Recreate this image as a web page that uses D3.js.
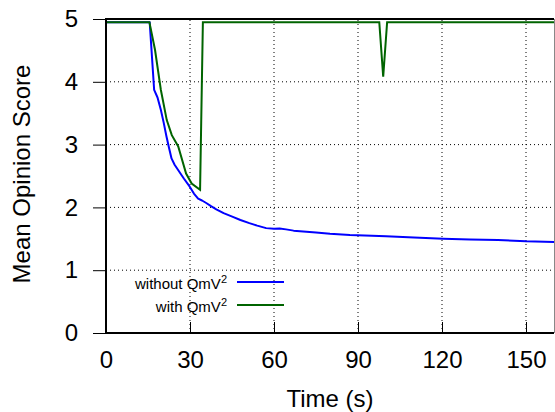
<!DOCTYPE html>
<html><head><meta charset="utf-8">
<script src="https://cdn.jsdelivr.net/npm/d3@7"></script>
<style>body{margin:0;background:#fff}svg{display:block}text{font-family:"Liberation Sans",Arial,sans-serif}</style>
</head><body>
<svg id="c" width="555" height="412"></svg>
<script>
const xTicks = [0, 30, 60, 90, 120, 150];
const yTicks = [0, 1, 2, 3, 4, 5];
const seriesNames = ["without QmV", "with QmV"];
const withoutT = [0, 15.6, 17.2, 18.4, 19.6, 20.6, 21.6, 22.5, 23.4, 24.5, 25.7, 27.8, 29.9, 31.4, 32.9, 34.3, 35.8, 37.5, 39.4, 42, 45.3, 48, 51.2, 54, 57.2, 60, 62, 64.3, 67, 69.3, 75, 80, 87.1, 95, 100, 110, 120.4, 130, 140, 150, 160];
const withoutV = [4.95, 4.95, 3.87, 3.75, 3.55, 3.35, 3.13, 2.95, 2.78, 2.68, 2.6, 2.46, 2.33, 2.22, 2.14, 2.11, 2.07, 2.02, 1.97, 1.91, 1.85, 1.8, 1.75, 1.71, 1.67, 1.66, 1.665, 1.65, 1.63, 1.62, 1.6, 1.58, 1.56, 1.55, 1.54, 1.52, 1.5, 1.49, 1.48, 1.46, 1.45];
const withT = [0, 15.5, 17.5, 19.6, 21.7, 23.5, 25.8, 28.6, 30.6, 33.6, 34.6, 97.6, 99, 100.4, 160];
const withV = [4.95, 4.95, 4.51, 3.87, 3.39, 3.15, 2.97, 2.54, 2.38, 2.28, 4.95, 4.95, 4.08, 4.95, 4.95];

const svg = d3.select("#c");
const L = 106, R = 554, T = 19, B = 333;
const x = d3.scaleLinear().domain([0, 160]).range([L, R]);
const y = d3.scaleLinear().domain([0, 5]).range([B, T]);

// grid
const g = svg.append("g");
g.selectAll("line.vg").data(xTicks.filter(d => d > 0)).join("line")
  .attr("x1", d => x(d)).attr("x2", d => x(d)).attr("y1", B).attr("y2", T)
  .attr("stroke", "#000").attr("stroke-width", 1).attr("stroke-dasharray", "1,3");
g.selectAll("line.hg").data(yTicks.filter(d => d > 0 && d < 5)).join("line")
  .attr("y1", d => y(d)).attr("y2", d => y(d)).attr("x1", L).attr("x2", R)
  .attr("stroke", "#000").attr("stroke-width", 1).attr("stroke-dasharray", "1,3");

// axes
const xa = svg.append("g").attr("transform", `translate(0,${B})`)
  .call(d3.axisBottom(x).tickValues(xTicks).tickFormat(d3.format("d")).tickSize(-11).tickPadding(12));
xa.select(".domain").remove();
xa.selectAll(".tick line").attr("stroke", "#000");
xa.selectAll(".tick text").attr("font-size", 24).attr("fill", "#000")
  .attr("font-family", '"Liberation Sans",Arial,sans-serif').attr("dy", "0.71em").attr("y", 18);

const ya = svg.append("g").attr("transform", `translate(${L},0)`)
  .call(d3.axisLeft(y).tickValues(yTicks).tickFormat(d3.format("d")).tickSize(13).tickPadding(15));
ya.select(".domain").remove();
ya.selectAll(".tick line").attr("stroke", "#000");
ya.selectAll(".tick text").attr("font-size", 24).attr("fill", "#000")
  .attr("font-family", '"Liberation Sans",Arial,sans-serif');

// lines
const line = d3.line().x(d => x(d[0])).y(d => y(d[1]));
const blueData = withoutT.map((t, i) => [t, withoutV[i]]);
const greenData = withT.map((t, i) => [t, withV[i]]);
svg.append("path").datum(blueData).attr("d", line).attr("fill", "none")
  .attr("stroke", "#0000ff").attr("stroke-width", 2).attr("stroke-linejoin", "round");
svg.append("path").datum(greenData).attr("d", line).attr("fill", "none")
  .attr("stroke", "#006400").attr("stroke-width", 2).attr("stroke-linejoin", "miter");

// border
svg.append("path").attr("d", `M${R},${T}H${L}V${B}H${R}`).attr("fill", "none")
  .attr("stroke", "#000").attr("stroke-width", 2);
svg.append("line").attr("x1", R + 0.5).attr("x2", R + 0.5).attr("y1", T).attr("y2", B)
  .attr("stroke", "#888").attr("stroke-width", 1);

// titles
svg.append("text").attr("x", (L + R) / 2).attr("y", 407).attr("text-anchor", "middle")
  .attr("font-size", 24).text("Time (s)");
svg.append("text").attr("transform", `translate(30,174) rotate(-90)`).attr("text-anchor", "middle")
  .attr("font-size", 24).text("Mean Opinion Score");

// legend
const colors = ["#0000ff", "#006400"];
const ly = [282, 305];
seriesNames.forEach((n, i) => {
  const t = svg.append("text").attr("x", 227).attr("y", ly[i] + 6.5).attr("text-anchor", "end")
    .attr("font-size", 15);
  t.append("tspan").text(n);
  t.append("tspan").attr("font-size", 11).attr("dy", -6).text("2");
  svg.append("line").attr("x1", 237).attr("x2", 284).attr("y1", ly[i]).attr("y2", ly[i])
    .attr("stroke", colors[i]).attr("stroke-width", 2);
});
</script>
</body></html>
